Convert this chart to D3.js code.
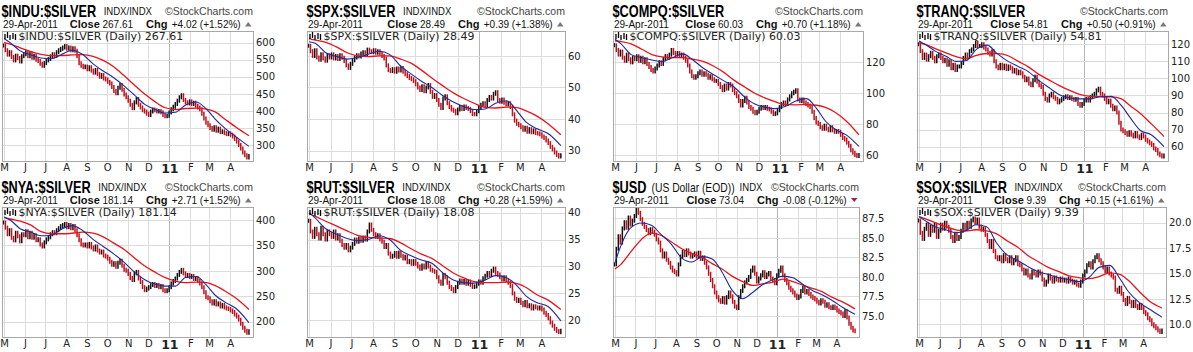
<!DOCTYPE html>
<html>
<head>
<meta charset="utf-8">
<script src="https://cdn.jsdelivr.net/npm/d3@7"></script>
<style>
  body { margin: 0; background: #fff; }
  svg { display: block; font-family: "Liberation Sans", Arial, sans-serif; }
</style>
</head>
<body>
<div id="chart"></div>
<script>
/**
 * Ratio charts vs. silver, daily, May 2010 - Apr 2011
 */

// time axis
const monthLabels = ['M', 'J', 'J', 'A', 'S', 'O', 'N', 'D', '11', 'F', 'M', 'A'];
const monthStarts = ['2010-05-01', '2010-06-01', '2010-07-01', '2010-08-01', '2010-09-01', '2010-10-01',
  '2010-11-01', '2010-12-01', '2011-01-01', '2011-02-01', '2011-03-01', '2011-04-01'];
const barRange = ['2010-04-30', '2011-04-29'];
const maDates = ['2010-05-01', '2010-05-10', '2010-05-25', '2010-06-10', '2010-06-25', '2010-07-10', '2010-07-25',
  '2010-08-10', '2010-08-25', '2010-09-10', '2010-09-25', '2010-10-10', '2010-10-25', '2010-11-10', '2010-11-25',
  '2010-12-10', '2010-12-25', '2011-01-10', '2011-01-25', '2011-02-10', '2011-02-25', '2011-03-10', '2011-03-25',
  '2011-04-10', '2011-04-29'];

// closes (every other session)
const induClose = [592, 578, 565, 572, 558, 548, 562, 555, 545, 560,
  566, 572, 560, 568, 556, 562, 550, 546, 538, 532,
  540, 548, 552, 560, 566, 562, 572, 578, 582, 586,
  590, 582, 586, 578, 584, 576, 560, 540, 532, 528,
  530, 522, 528, 518, 512, 520, 508, 500, 505, 495,
  492, 485, 480, 470, 458, 452, 468, 476, 462, 448,
  440, 430, 418, 408, 425, 435, 418, 410, 402, 398,
  392, 388, 398, 404, 402, 398, 400, 396, 388, 384,
  386, 395, 405, 412, 420, 430, 440, 446, 432, 425,
  422, 428, 420, 424, 415, 410, 405, 392, 378, 365,
  358, 350, 345, 352, 342, 348, 338, 340, 335, 332,
  334, 330, 325, 318, 310, 300, 290, 278, 270, 263.59, 267.61];
const spxClose = [63.2, 61.5, 60, 61.8, 59.5, 58.8, 60.5, 59.2, 58.5, 60.2,
  59.5, 60.5, 59.2, 60, 59, 60.2, 59.4, 58.4, 57, 56.2,
  57.5, 58.6, 59.5, 60.2, 59.8, 60.8, 61.2, 60.5, 62, 61.5,
  61.2, 61.8, 61, 61.5, 60.8, 60, 59.2, 57, 55.5, 55.2,
  55.8, 55, 56, 55.4, 56.2, 55, 54.2, 53.6, 53, 52.6,
  52, 51, 50, 49.2, 50.4, 48.8, 50, 50.8, 48.6, 47,
  47.6, 46, 44.5, 43.5, 46.5, 47.2, 45, 43.8, 43, 42.6,
  41.8, 43, 43.8, 43.2, 44, 43.5, 43.2, 42.5, 41.6, 41.5,
  42.5, 43.5, 44.5, 45, 44.4, 46, 47, 46.5, 48, 48.5,
  46, 45.5, 46.2, 45.2, 44.6, 45, 43.8, 41.5, 39.5, 38.5,
  38, 37.4, 36.6, 37.2, 36, 36.8, 35.8, 36.4, 35.6, 35.4,
  35.2, 34.5, 34, 33.2, 32.4, 31.2, 30.4, 29.4, 28.6, 28.1, 28.49];
const compqClose = [131, 128, 125, 127, 123, 121, 125, 122, 120, 123,
  122, 124, 121, 123, 120, 122, 119, 117, 115, 114,
  116, 118, 120, 119, 122, 124, 123, 125, 128, 126,
  125, 126, 124, 125, 123, 121, 118, 114, 111, 110,
  111, 113, 114, 112, 113, 112, 110, 111, 109, 108,
  108, 106, 104, 102, 105, 103, 106, 105, 102, 100,
  98, 95, 92, 95, 97, 94, 91, 90, 88, 87,
  88, 90, 91, 90.5, 91, 90, 89.5, 88, 86.5, 87,
  89, 91, 93, 94, 93, 96, 98, 100, 101, 102,
  96, 95, 96, 94, 93, 92, 91, 88, 84, 81,
  80, 78, 77, 79, 77, 76, 78, 76, 75, 75.5,
  75, 73, 71, 70, 68, 66, 63, 61.5, 60, 59.3, 60.03];
const tranqClose = [120, 116, 112, 114, 111, 113, 115, 112, 110, 113,
  114, 112, 110, 111, 108, 110, 106, 108, 105, 107,
  107, 109, 112, 114, 113, 116, 117, 119, 121, 119,
  119, 120, 118, 117, 115, 114, 116, 110, 107, 106,
  108, 106, 107.5, 105.5, 107, 106, 104, 105, 103, 104,
  103, 101, 99, 100, 97, 96, 99, 101, 98, 96,
  95, 91, 88, 87, 90, 91, 89, 88, 86, 87,
  88, 89, 89.5, 88.5, 89, 88, 87.5, 88, 85, 84,
  85, 87, 88, 87, 89, 90, 91, 93, 94, 91,
  90, 88, 86, 87, 84, 82, 83, 80, 74, 70,
  69, 68, 67, 68.5, 67, 66, 68, 66, 65, 67,
  66, 64, 63, 62, 61, 59, 58, 56, 55, 54.31, 54.81];
const nyaClose = [395, 385, 372, 380, 365, 360, 375, 368, 358, 372,
  370, 378, 366, 375, 365, 370, 360, 362, 352, 348,
  356, 362, 366, 372, 376, 374, 380, 384, 388, 390,
  392, 386, 390, 384, 388, 380, 370, 360, 352, 350,
  352, 348, 353, 346, 342, 348, 340, 336, 338, 330,
  328, 324, 318, 312, 315, 308, 316, 320, 310, 302,
  300, 294, 286, 282, 295, 298, 285, 278, 268, 262,
  265, 268, 272, 274, 270, 272, 268, 270, 262, 260,
  262, 268, 275, 280, 285, 292, 298, 302, 295, 290,
  292, 288, 290, 284, 286, 280, 275, 268, 258, 248,
  246, 240, 236, 240, 234, 236, 230, 233, 228, 226,
  225, 222, 219, 214, 210, 204, 196, 188, 182, 178.43, 181.14];
const rutClose = [38.5, 36.5, 35.5, 37, 36, 35.2, 37.2, 36, 35, 36.5,
  36, 35.5, 36.5, 35.2, 35.8, 34.8, 34, 33.5, 34, 33,
  33.5, 34.2, 35, 34.6, 35.2, 34.8, 35.4, 35, 36.5, 37.8,
  36.8, 36, 35.5, 35.8, 35, 34.6, 33.6, 34, 32.4, 31.8,
  32, 32.5, 31.8, 32.6, 32, 31.5, 31.8, 30.8, 31, 30.5,
  31, 30.5, 30, 29.6, 30.2, 29.8, 30.6, 30, 29.4, 29.2,
  29, 28, 27.2, 26.8, 28.4, 28, 27, 26.2, 25.8, 25.4,
  26.2, 27, 27.4, 27, 27.3, 26.8, 27.2, 26.6, 26.2, 26.3,
  26.8, 27.2, 27, 27.8, 28.3, 28.8, 28.4, 29.2, 29.6, 28.8,
  28.5, 28, 27.6, 28, 27.4, 27, 26.4, 25, 24, 23.6,
  23.8, 23.2, 22.8, 23.4, 22.6, 22.8, 22.2, 22.6, 22.4, 22.2,
  22.4, 22, 21.4, 21, 20.4, 19.6, 19, 18.4, 18, 17.8, 18.08];
const usdClose = [81.6, 83.6, 85.2, 84.4, 86.2, 87.0, 86.3, 87.6, 86.7, 87.2,
  87.8, 88.6, 88.2, 87.4, 86.8, 86.4, 86.0, 85.6, 86.1, 85.8,
  85.4, 84.8, 84.4, 83.4, 82.6, 83.0, 82.2, 81.8, 81.2, 80.8,
  80.6, 80.3, 81.6, 82.6, 83.2, 82.8, 83.4, 83.0, 82.6, 82.8,
  83.0, 82.6, 83.1, 82.3, 82.5, 81.8, 81.2, 80.4, 79.6, 78.8,
  78.0, 77.4, 77.0, 76.8, 77.3, 76.7, 77.4, 78.0, 77.5, 76.8,
  76.2, 76.0, 77.4, 78.2, 78.8, 79.3, 79.6, 80.0, 80.8, 81.2,
  80.4, 79.4, 79.8, 80.2, 80.6, 80.0, 80.3, 80.5, 79.8, 79.6,
  79.2, 80.2, 80.8, 81.2, 80.2, 79.6, 79.2, 78.6, 78.3, 78.0,
  77.6, 77.3, 77.5, 78.2, 78.6, 78.0, 78.2, 77.8, 77.5, 77.3,
  77.1, 76.8, 76.6, 77.0, 76.8, 76.3, 76.5, 76.1, 76.0, 76.2,
  76.0, 75.7, 75.5, 75.3, 75.0, 75.6, 74.8, 74.0, 73.5, 73.12, 73.04];
const soxClose = [20.2, 19, 18.4, 19.4, 19.8, 18.8, 19.6, 19.2, 19.8, 18.6,
  19.2, 19.8, 19.4, 20, 19.6, 19.2, 18.6, 18.2, 18.9, 18.4,
  18.6, 19.2, 19.8, 19.4, 20, 19.6, 20.2, 20.4, 20, 20.3,
  19.6, 19.3, 19.4, 18.8, 18.2, 17.6, 18.2, 17.2, 16.6, 16.4,
  16.6, 16.2, 16.8, 16.4, 16.2, 16.6, 16, 16.3, 16.6, 15.9,
  15.8, 15.4, 15, 15.3, 14.8, 14.6, 15.2, 15, 14.8, 15.2,
  15, 14.4, 13.9, 14.2, 14.8, 14.5, 14.2, 14.6, 14.4, 14.3,
  14.5, 14.3, 14.4, 14.2, 14.5, 14.3, 14.1, 14.2, 13.9, 13.8,
  14.2, 14.8, 15.2, 15.8, 16, 15.6, 16.2, 16.6, 16.8, 16.3,
  16, 15.6, 15.2, 15.5, 15, 14.8, 14.6, 13.4, 13.2, 13.6,
  13, 12.4, 12, 12.6, 12.2, 11.8, 12.2, 11.8, 11.6, 11.9,
  11.6, 11.2, 11, 10.6, 10.4, 10, 9.8, 9.6, 9.4, 9.24, 9.39];

// short (blue) and long (red) moving averages, sampled at maDates
const induBlue = [612, 600, 576, 564, 555, 553, 565, 578, 566, 538, 517, 498, 475, 447, 420, 405, 394, 396, 417, 426, 405, 376, 348, 324, 296];
const induRed = [600, 596, 585, 574, 566, 562, 562, 564, 565, 560, 548, 530, 505, 476, 450, 428, 410, 404, 407, 408, 405, 397, 375, 352, 327];
const spxBlue = [64.5, 64, 61, 59.8, 59, 59.6, 60.5, 61.5, 60.5, 56.8, 54.3, 52, 50, 47.4, 45.4, 44, 43, 43.2, 45, 45.8, 42.5, 39, 37, 35.5, 31.6];
const spxRed = [65.5, 65, 64.3, 62.8, 61, 60, 59.8, 60, 60, 59, 57.7, 55.5, 53, 50.5, 48.3, 46.5, 45, 43.7, 43.5, 43.8, 43.6, 42.6, 41, 38.6, 35];
const compqBlue = [135, 132, 125, 123, 121.5, 120.5, 123, 125.5, 121.5, 116, 112, 108, 104, 97.5, 93, 91, 90, 91.5, 95, 96.5, 90, 82, 76.5, 73, 65.5];
const compqRed = [134, 133.5, 132, 128.5, 125, 123.5, 123, 123, 122, 120.5, 117.5, 113.5, 108.5, 104, 100, 97, 94.5, 92.6, 92.5, 92.6, 92.2, 90.8, 87.5, 82, 73];
const tranqBlue = [122, 120, 116, 113, 110, 110.5, 117, 119.5, 114.5, 110, 107, 104, 99, 94.5, 90.5, 88.5, 88, 88, 89.3, 89.5, 84, 77, 69.5, 67, 60];
const tranqRed = [121, 120, 117.5, 115, 112.8, 111.5, 113.5, 114.6, 114.5, 113.3, 110, 106.8, 102.5, 99, 95.8, 93, 90.6, 89.5, 89.3, 89.2, 88, 84, 79.5, 73.5, 66];
const nyaBlue = [406, 400, 383, 376, 369, 370, 382, 389, 380, 362, 348, 334, 318, 298, 283, 274, 270, 270, 287, 289, 272, 252, 238, 226, 198];
const nyaRed = [405, 402, 398, 390, 377, 373, 373, 374, 376, 374, 367, 355, 343, 326, 310, 298, 287, 280, 277, 278, 277, 271, 260, 246, 224];
const rutBlue = [40, 39, 37, 36, 35.2, 34.8, 35, 35.7, 35, 33, 32, 31.2, 30.6, 28.8, 27.5, 27, 26.9, 27.5, 28.3, 27.9, 26.4, 24.5, 23.3, 22.6, 19.9];
const rutRed = [39.8, 39.3, 38.4, 37.5, 36.6, 35.8, 35.4, 35.3, 35.2, 34.4, 33.3, 32.3, 31.5, 30.1, 28.8, 27.9, 27.2, 27, 27, 27.1, 26.8, 26.1, 24.8, 23.8, 22];
const usdBlue = [81.8, 84, 86.3, 86.9, 86.6, 85.4, 84.2, 82.4, 81.9, 82.6, 82.3, 80.6, 78.3, 77.2, 78, 79, 79.6, 80.1, 79.9, 79, 78.2, 77.7, 77, 76.1, 75.2];
const usdRed = [81, 81.6, 83.2, 84.8, 85.6, 85.3, 84.5, 83.6, 83, 82.5, 81.7, 81, 80.1, 79.4, 78.9, 79.1, 79.3, 79.7, 79.4, 78.9, 78.5, 78.1, 77.4, 76.8, 75.9];
const soxBlue = [20.6, 20.2, 19.6, 19.3, 19, 19.2, 19.8, 19.6, 18, 16.8, 16.3, 15.7, 15.2, 14.9, 14.6, 14.4, 14.2, 14.6, 15.6, 15.8, 14.5, 13.2, 12.2, 11.5, 10.7];
const soxRed = [20.6, 20.4, 20, 19.6, 19.3, 19.2, 19.3, 19.2, 18.9, 18.2, 17.6, 16.8, 16.2, 15.6, 15.2, 14.8, 14.6, 14.5, 14.7, 15.05, 14.9, 14.3, 13.3, 12.3, 11.6];

// y tick labels
const induTicks = [300, 350, 400, 450, 500, 550, 600];
const spxTicks = [30, 40, 50, 60];
const compqTicks = [60, 80, 100, 120];
const tranqTicks = [60, 70, 80, 90, 100, 110, 120];
const nyaTicks = [200, 250, 300, 350, 400];
const rutTicks = [20, 25, 30, 35, 40];
const usdTicks = [75, 77.5, 80, 82.5, 85, 87.5];
const soxTicks = [10, 12.5, 15, 17.5, 20];

// header texts
const titles = ['$INDU:$SILVER', '$SPX:$SILVER', '$COMPQ:$SILVER', '$TRANQ:$SILVER',
  '$NYA:$SILVER', '$RUT:$SILVER', '$USD', '$SOX:$SILVER'];
const exchanges = ['INDX/INDX', 'INDX/INDX', '', '', 'INDX/INDX', 'INDX/INDX', 'INDX', 'INDX/INDX'];
const closeLabels = ['267.61', '28.49', '60.03', '54.81', '181.14', '18.08', '73.04', '9.39'];
const chgLabels = ['+4.02 (+1.52%)', '+0.39 (+1.38%)', '+0.70 (+1.18%)', '+0.50 (+0.91%)',
  '+2.71 (+1.52%)', '+0.28 (+1.59%)', '-0.08 (-0.12%)', '+0.15 (+1.61%)'];

const parse = d3.timeParse('%Y-%m-%d');

// per panel: data + where it sits on the page
const panels = [
  { closes: induClose, blue: induBlue, red: induRed, ticks: induTicks, fmt: 'd', left: 2, right: 253, row: 0, domain: [253.2, 634.2] },
  { closes: spxClose, blue: spxBlue, red: spxRed, ticks: spxTicks, fmt: 'd', left: 307, right: 565, row: 0, domain: [26.7, 67.9] },
  { closes: compqClose, blue: compqBlue, red: compqRed, ticks: compqTicks, fmt: 'd', left: 613, right: 863, row: 0, domain: [56.1, 140.3] },
  { closes: tranqClose, blue: tranqBlue, red: tranqRed, ticks: tranqTicks, fmt: 'd', left: 917, right: 1168, row: 0, domain: [51.6, 127.8] },
  { closes: nyaClose, blue: nyaBlue, red: nyaRed, ticks: nyaTicks, fmt: 'd', left: 2, right: 253, row: 1, domain: [169.9, 425.6] },
  { closes: rutClose, blue: rutBlue, red: rutRed, ticks: rutTicks, fmt: 'd', left: 307, right: 565, row: 1, domain: [16.9, 41.05] },
  { closes: usdClose, blue: usdBlue, red: usdRed, ticks: usdTicks, fmt: '.1f', left: 613, right: 859, row: 1, domain: [72.3, 88.95], subName: '(US Dollar (EOD))', noLegend: true },
  { closes: soxClose, blue: soxBlue, red: soxRed, ticks: soxTicks, fmt: '.1f', left: 917, right: 1166, row: 1, domain: [8.75, 21.54] }
].map((p, i) => Object.assign(p, { title: titles[i], exch: exchanges[i], close: closeLabels[i], chg: chgLabels[i] }));

class RatioPanel {
  constructor(svg, p, index) {
    this.svg = svg;
    this.p = p;
    this.index = index;
    this.rowTop = p.row * 176;
    this.top = this.rowTop + 31;
    this.bottom = this.rowTop + 161;
    this.g = svg.append('g').attr('class', 'panel');

    this.x = d3.scaleTime()
      .domain([new Date(2010, 3, 28), new Date(2011, 4, 5)])
      .range([p.left, p.right]);
    this.y = d3.scaleLinear()
      .domain(p.domain)
      .range([this.bottom, this.top]);
  }

  /**
   * text squeezed horizontally by k, returns drawn width
   */
  _narrowText(x, y, str, size, k, opts = {}) {
    const t = this.g.append('text')
      .attr('transform', `translate(${x},${y}) scale(${k},1)`)
      .style('font-size', size)
      .style('font-weight', opts.bold ? 'bold' : 'normal')
      .attr('fill', opts.fill || '#111')
      .text(str);
    return t.node().getComputedTextLength() * k;
  }

  _header() {
    const { p, g } = this;
    const ty = this.rowTop + 16.5;

    let xr = p.left - 0.5 + this._narrowText(p.left - 0.5, ty, p.title, '17px', 0.75, { bold: true, fill: '#000' });

    if (p.subName) {
      xr += 5 + this._narrowText(xr + 5, ty - 1, p.subName, '12px', 0.86);
    }
    if (p.exch) {
      this._narrowText(xr + (p.subName ? 5 : 7.5), ty - 1.5, p.exch, '11px', 0.87);
    }

    // copyright line, right aligned on the plot box
    const sc = g.append('text')
      .style('font-size', '11px').attr('fill', '#444')
      .text('\u00A9StockCharts.com');
    const scw = sc.node().getComputedTextLength();
    const k = 88 / scw;
    sc.attr('transform', `translate(${p.right - 88},${ty - 1.2}) scale(${k},1)`);

    // second line: date, close, change
    const sy = this.rowTop + 27.5;
    g.append('text')
      .attr('x', p.left + 1).attr('y', sy)
      .style('font-size', '10px').attr('fill', '#111')
      .text('29-Apr-2011');

    const down = p.chg.startsWith('-');
    const tx = p.right;
    g.append('path')
      .attr('d', down
        ? `M${tx - 8},${sy - 5.5}L${tx - 1.5},${sy - 5.5}L${tx - 4.75},${sy - 1.5}Z`
        : `M${tx - 8},${sy - 1}L${tx - 1.5},${sy - 1}L${tx - 4.75},${sy - 5.5}Z`)
      .attr('fill', down ? '#a3214c' : '#777');

    const pieces = [
      { t: p.chg, bold: false, gap: 12.3 },
      { t: 'Chg', bold: true, gap: 4.3 },
      { t: p.close, bold: false, gap: 13 },
      { t: 'Close', bold: true, gap: 2.7 }
    ];
    let xe = p.right;
    pieces.forEach(d => {
      xe -= d.gap;
      const t = g.append('text')
        .attr('x', xe).attr('y', sy)
        .attr('text-anchor', 'end')
        .style('font-size', d.bold ? '11px' : '10px')
        .style('font-weight', d.bold ? 'bold' : 'normal')
        .attr('fill', '#111')
        .text(d.t);
      xe -= t.node().getComputedTextLength();
    });
  }

  _frame() {
    const { p, g, x, y } = this;

    g.append('g').selectAll('line')
      .data(monthStarts.map(parse))
      .enter().append('line')
      .attr('x1', d => Math.round(x(d)) + 0.5).attr('x2', d => Math.round(x(d)) + 0.5)
      .attr('y1', this.top).attr('y2', this.bottom)
      .attr('stroke', d => d.getMonth() === 0 ? '#b4b4b4' : '#dcdcdc')
      .attr('stroke-width', 1);

    g.append('g').selectAll('line')
      .data(p.ticks)
      .enter().append('line')
      .attr('x1', p.left).attr('x2', p.right)
      .attr('y1', d => Math.round(y(d)) + 0.5).attr('y2', d => Math.round(y(d)) + 0.5)
      .attr('stroke', '#dcdcdc');

    g.append('rect')
      .attr('x', p.left + 0.5).attr('y', this.top + 0.5)
      .attr('width', p.right - p.left).attr('height', this.bottom - this.top)
      .attr('fill', 'none').attr('stroke', '#a8a8a8');

    this.svg.append('clipPath').attr('id', `clip-${this.index}`)
      .append('rect')
      .attr('x', p.left + 1).attr('y', this.top + 1)
      .attr('width', p.right - p.left - 1).attr('height', this.bottom - this.top - 1);
    this.plot = g.append('g').attr('clip-path', `url(#clip-${this.index})`);
  }

  _bars() {
    const { p, x, y } = this;
    const t0 = parse(barRange[0]), t1 = parse(barRange[1]);
    const n = p.closes.length;
    const bars = p.closes.map((c, i) => ({
      date: new Date(+t0 + i * (t1 - t0) / (n - 1)),
      close: c,
      prev: i ? p.closes[i - 1] : c
    }));

    this.plot.selectAll('.bar')
      .data(bars)
      .enter().append('line')
      .attr('class', 'bar')
      .attr('x1', d => x(d.date)).attr('x2', d => x(d.date))
      .attr('y1', d => y(Math.max(d.close, d.prev)) - 2)
      .attr('y2', d => y(Math.min(d.close, d.prev)) + 2)
      .attr('stroke', d => d.close >= d.prev ? '#111' : '#c0101c')
      .attr('stroke-width', 1.5);
  }

  _averages() {
    const { p, x, y } = this;
    const dates = maDates.map(parse);
    const line = d3.line()
      .x((d, i) => x(dates[i]))
      .y(d => y(d))
      .curve(d3.curveMonotoneX);

    this.plot.append('path')
      .datum(p.red)
      .attr('d', line)
      .attr('fill', 'none').attr('stroke', '#e8141c').attr('stroke-width', 1.3);
    this.plot.append('path')
      .datum(p.blue)
      .attr('d', line)
      .attr('fill', 'none').attr('stroke', '#1c2a9a').attr('stroke-width', 1.1);
  }

  _axes() {
    const { p, g, x, y } = this;

    const ya = g.append('g')
      .attr('transform', `translate(${p.right},0)`)
      .call(d3.axisRight(y).tickValues(p.ticks).tickSize(0).tickPadding(3).tickFormat(d3.format(p.fmt)));
    ya.select('.domain').remove();
    ya.selectAll('text')
      .style('font-family', '"DejaVu Sans", Verdana, sans-serif')
      .style('font-size', '10px').attr('fill', '#222');

    const xa = g.append('g')
      .attr('transform', `translate(0,${this.bottom})`)
      .call(d3.axisBottom(x).tickValues(monthStarts.map(parse)).tickSize(0).tickPadding(3)
        .tickFormat((d, i) => monthLabels[i]));
    xa.select('.domain').remove();
    xa.selectAll('text')
      .style('font-family', '"DejaVu Sans", Verdana, sans-serif')
      .style('font-size', (d, i) => monthLabels[i] === '11' ? '12.5px' : '10px')
      .style('font-weight', (d, i) => monthLabels[i] === '11' ? 'bold' : 'normal')
      .attr('fill', '#222');
  }

  _legend() {
    const { p, g } = this;
    if (p.noLegend) return;
    const ly = this.rowTop + 40;

    // small bar icon
    const icon = g.append('g').attr('stroke', '#000').attr('stroke-width', 1.3);
    [[0, 2, 7], [2.5, 0, 6], [5, 3, 8], [8, 1, 7], [10.5, 2, 8]].forEach(([dx, a, b]) => {
      icon.append('line')
        .attr('x1', p.left + 3 + dx).attr('x2', p.left + 3 + dx)
        .attr('y1', ly - 8 + a).attr('y2', ly - 8 + b);
    });

    g.append('text')
      .attr('x', p.left + 16.5).attr('y', ly)
      .style('font-family', '"DejaVu Sans", Verdana, sans-serif')
      .style('font-size', '11px').attr('fill', '#222')
      .text(`${p.title} (Daily) ${p.close}`);
  }

  render() {
    this._frame();
    this._bars();
    this._averages();
    this._axes();
    this._legend();
    this._header();
  }
}

const svg = d3.select('#chart')
  .append('svg')
  .attr('width', 1193)
  .attr('height', 352);

panels.forEach((p, i) => new RatioPanel(svg, p, i).render());
</script>
</body>
</html>
